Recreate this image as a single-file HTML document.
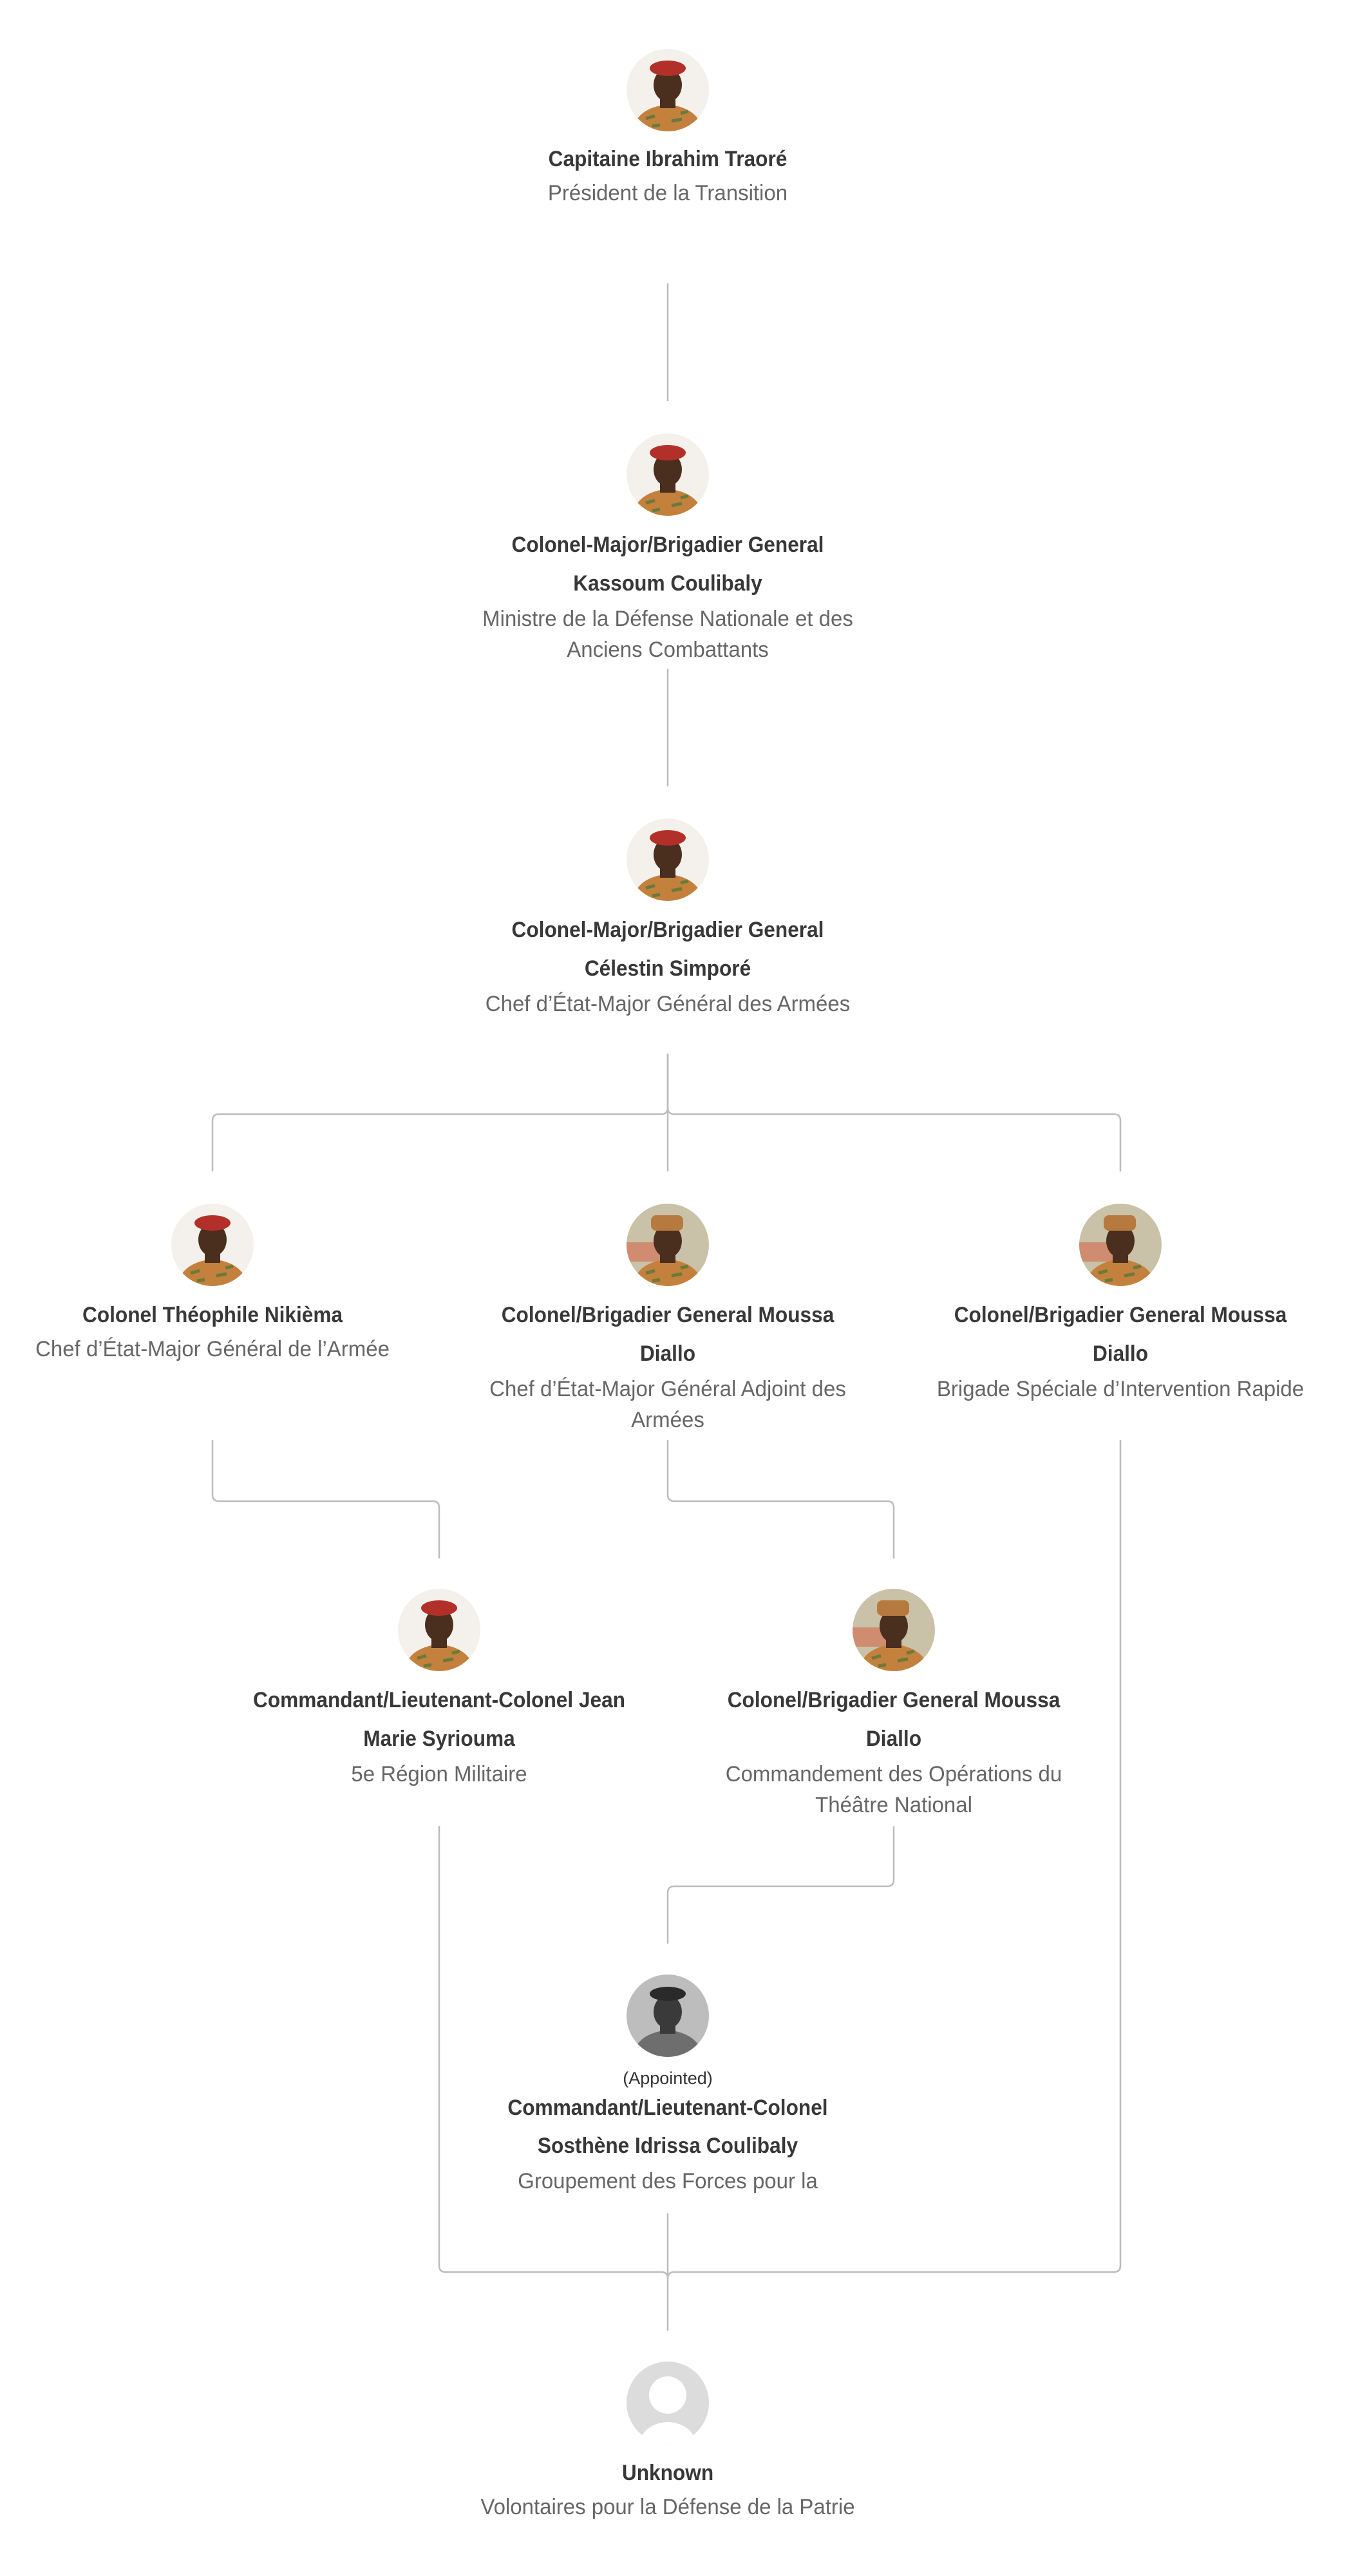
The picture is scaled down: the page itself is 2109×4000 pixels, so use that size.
<!DOCTYPE html>
<html><head><meta charset="utf-8">
<style>
html,body{margin:0;padding:0;background:#fff;}
body{width:2109px;height:4000px;position:relative;overflow:hidden;font-family:"Liberation Sans",sans-serif;}
.t,.s,.a{position:absolute;width:1200px;text-align:center;white-space:nowrap;}
.t{font-weight:bold;font-size:34px;line-height:34px;color:#383838;transform:scaleX(0.93);}
.s{font-size:34px;line-height:34px;color:#666;transform:scaleX(0.97);}
.a{font-size:27px;line-height:27px;color:#333;}
.av{position:absolute;width:128px;height:128px;}
</style></head><body>
<svg width="0" height="0" style="position:absolute">
<defs>
<clipPath id="c"><circle cx="64" cy="64" r="64"/></clipPath>
<symbol id="p" viewBox="0 0 128 128">
<g clip-path="url(#c)">
<rect width="128" height="128" fill="#f4f1ec"/>
<path d="M10 128 Q14 92 64 86 Q114 92 118 128 Z" fill="#c4813d"/>
<path d="M30 108 l14 -4 M70 112 l16 -3 M40 120 l12 -2 M84 100 l12 -3" stroke="#6b7a3a" stroke-width="5"/>
<rect x="52" y="74" width="24" height="18" fill="#4a2e1e"/>
<ellipse cx="64" cy="56" rx="22" ry="26" fill="#4a2e1e"/>
<ellipse cx="64" cy="30" rx="28" ry="12" fill="#b3302a"/>
</g>
</symbol>
<symbol id="pc" viewBox="0 0 128 128">
<g clip-path="url(#c)">
<rect width="128" height="128" fill="#c9c2a8"/>
<rect x="0" y="60" width="60" height="30" fill="#d8553a" opacity="0.5"/>
<path d="M10 128 Q14 92 64 86 Q114 92 118 128 Z" fill="#c4813d"/>
<path d="M30 108 l14 -4 M70 112 l16 -3 M40 120 l12 -2 M84 100 l12 -3" stroke="#6b7a3a" stroke-width="5"/>
<rect x="52" y="74" width="24" height="18" fill="#4a2e1e"/>
<ellipse cx="64" cy="58" rx="22" ry="26" fill="#4a2e1e"/>
<rect x="38" y="18" width="50" height="24" rx="8" fill="#b77a3e"/>
</g>
</symbol>
<symbol id="pg" viewBox="0 0 128 128">
<g clip-path="url(#c)">
<rect width="128" height="128" fill="#bdbdbd"/>
<path d="M10 128 Q14 92 64 86 Q114 92 118 128 Z" fill="#6e6e6e"/>
<rect x="52" y="74" width="24" height="18" fill="#3a3a3a"/>
<ellipse cx="64" cy="58" rx="22" ry="26" fill="#3a3a3a"/>
<ellipse cx="64" cy="30" rx="28" ry="11" fill="#2a2a2a"/>
</g>
</symbol>
<symbol id="pu" viewBox="0 0 128 128">
<g clip-path="url(#c)">
<rect width="128" height="128" fill="#dcdcdc"/>
<circle cx="64" cy="52" r="29" fill="#fff"/>
<ellipse cx="64" cy="130" rx="44" ry="36" fill="#fff"/>
</g>
</symbol>
</defs>
</svg>

<svg width="2109" height="4000" style="position:absolute;left:0;top:0" fill="none" stroke="#bcbcbc" stroke-width="2.5">
<path d="M1037 440 V623"/>
<path d="M1037 1039 V1221"/>
<path d="M1037 1636 V1819"/>
<path d="M1037 1636 V1720 Q1037 1730 1027 1730 H340 Q330 1730 330 1740 V1819"/>
<path d="M1037 1636 V1720 Q1037 1730 1047 1730 H1730 Q1740 1730 1740 1740 V1819"/>
<path d="M330 2236 V2321 Q330 2331 340 2331 H672 Q682 2331 682 2341 V2420"/>
<path d="M1037 2236 V2321 Q1037 2331 1047 2331 H1378 Q1388 2331 1388 2341 V2420"/>
<path d="M1740 2236 V3518 Q1740 3528 1730 3528 H1047 Q1037 3528 1037 3538"/>
<path d="M682 2835 V3518 Q682 3528 692 3528 H1027 Q1037 3528 1037 3538"/>
<path d="M1388 2836 V2919 Q1388 2929 1378 2929 H1047 Q1037 2929 1037 2939 V3018"/>
<path d="M1037 3437 V3619"/>
</svg>

<svg class="av" style="left:973px;top:76px"><use href="#p"/></svg>
<div class="t" style="left:437px;top:230px">Capitaine Ibrahim Traoré</div>
<div class="s" style="left:437px;top:283px">Président de la Transition</div>

<svg class="av" style="left:973px;top:673px"><use href="#p"/></svg>
<div class="t" style="left:437px;top:829px">Colonel-Major/Brigadier General</div>
<div class="t" style="left:437px;top:889px">Kassoum Coulibaly</div>
<div class="s" style="left:437px;top:944px">Ministre de la Défense Nationale et des</div>
<div class="s" style="left:437px;top:992px">Anciens Combattants</div>

<svg class="av" style="left:973px;top:1271px"><use href="#p"/></svg>
<div class="t" style="left:437px;top:1427px">Colonel-Major/Brigadier General</div>
<div class="t" style="left:437px;top:1487px">Célestin Simporé</div>
<div class="s" style="left:437px;top:1542px">Chef d’État-Major Général des Armées</div>

<svg class="av" style="left:266px;top:1869px"><use href="#p"/></svg>
<div class="t" style="left:-270px;top:2025px">Colonel Théophile Nikièma</div>
<div class="s" style="left:-270px;top:2078px">Chef d’État-Major Général de l’Armée</div>

<svg class="av" style="left:973px;top:1869px"><use href="#pc"/></svg>
<div class="t" style="left:437px;top:2025px">Colonel/Brigadier General Moussa</div>
<div class="t" style="left:437px;top:2085px">Diallo</div>
<div class="s" style="left:437px;top:2140px">Chef d’État-Major Général Adjoint des</div>
<div class="s" style="left:437px;top:2188px">Armées</div>

<svg class="av" style="left:1676px;top:1869px"><use href="#pc"/></svg>
<div class="t" style="left:1140px;top:2025px">Colonel/Brigadier General Moussa</div>
<div class="t" style="left:1140px;top:2085px">Diallo</div>
<div class="s" style="left:1140px;top:2140px">Brigade Spéciale d’Intervention Rapide</div>

<svg class="av" style="left:618px;top:2467px"><use href="#p"/></svg>
<div class="t" style="left:82px;top:2623px">Commandant/Lieutenant-Colonel Jean</div>
<div class="t" style="left:82px;top:2683px">Marie Syriouma</div>
<div class="s" style="left:82px;top:2738px">5e Région Militaire</div>

<svg class="av" style="left:1324px;top:2467px"><use href="#pc"/></svg>
<div class="t" style="left:788px;top:2623px">Colonel/Brigadier General Moussa</div>
<div class="t" style="left:788px;top:2683px">Diallo</div>
<div class="s" style="left:788px;top:2738px">Commandement des Opérations du</div>
<div class="s" style="left:788px;top:2786px">Théâtre National</div>

<svg class="av" style="left:973px;top:3066px"><use href="#pg"/></svg>
<div class="a" style="left:437px;top:3214px">(Appointed)</div>
<div class="t" style="left:437px;top:3256px">Commandant/Lieutenant-Colonel</div>
<div class="t" style="left:437px;top:3315px">Sosthène Idrissa Coulibaly</div>
<div class="s" style="left:437px;top:3370px">Groupement des Forces pour la</div>

<svg class="av" style="left:973px;top:3667px"><use href="#pu"/></svg>
<div class="t" style="left:437px;top:3823px">Unknown</div>
<div class="s" style="left:437px;top:3876px">Volontaires pour la Défense de la Patrie</div>
</body></html>
